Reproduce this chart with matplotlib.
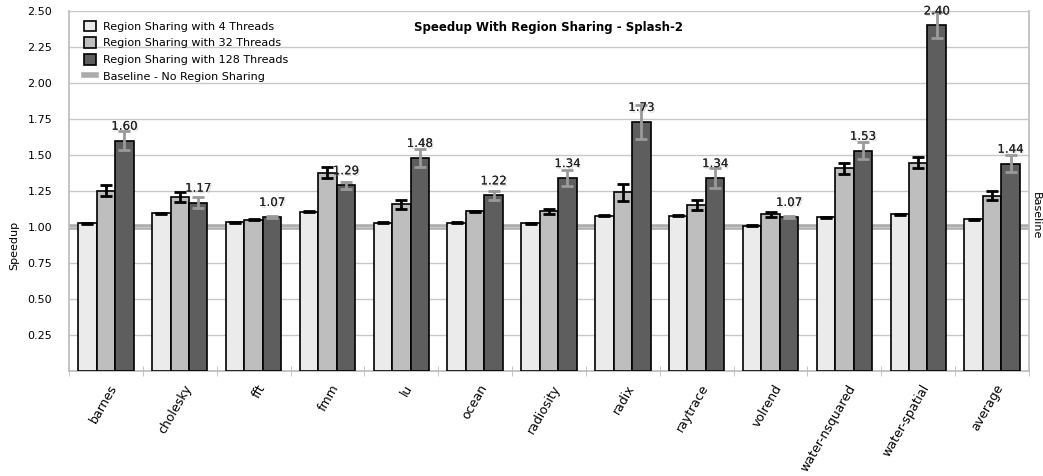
import numpy as np
import matplotlib
matplotlib.use("Agg")
import matplotlib.pyplot as plt
import matplotlib.patheffects as pe
from matplotlib.lines import Line2D

# Benchmarks (SPLASH-2) and mean speedups
categories = ["barnes", "cholesky", "fft", "fmm", "lu", "ocean", "radiosity",
              "radix", "raytrace", "volrend", "water-nsquared", "water-spatial",
              "average"]
speedup_4 = [1.025, 1.095, 1.033, 1.106, 1.03, 1.03, 1.025, 1.079, 1.079,
             1.01, 1.067, 1.088, 1.053]
speedup_32 = [1.252, 1.21, 1.05, 1.377, 1.157, 1.109, 1.11, 1.24, 1.155,
              1.088, 1.407, 1.447, 1.218]
speedup_128 = [1.60, 1.17, 1.07, 1.29, 1.48, 1.22, 1.34, 1.73, 1.34, 1.07,
               1.53, 2.40, 1.44]
err_4 = [0.005, 0.005, 0.005, 0.005, 0.005, 0.005, 0.005, 0.003, 0.003,
         0.005, 0.005, 0.005, 0.005]
err_32 = [0.037, 0.036, 0.004, 0.04, 0.03, 0.005, 0.018, 0.058, 0.035,
          0.018, 0.037, 0.04, 0.03]
err_128 = [0.065, 0.036, 0.008, 0.025, 0.06, 0.033, 0.053, 0.12, 0.07,
           0.008, 0.057, 0.09, 0.06]
baseline = 1.0
y_ticks = [0.25, 0.50, 0.75, 1.00, 1.25, 1.50, 1.75, 2.00, 2.25, 2.50]

series_labels = ["Region Sharing with 4 Threads",
                 "Region Sharing with 32 Threads",
                 "Region Sharing with 128 Threads"]
baseline_label = "Baseline - No Region Sharing"
colors = ["#EBEBEB", "#BEBEBE", "#5E5E5E"]
err_colors = ["black", "black", "#9A9A9A"]

plt.rcParams["font.family"] = ["DejaVu Sans"]

fig = plt.figure(figsize=(10.43, 4.76), dpi=100)
ax = fig.add_axes([69 / 1043, 1 - 371 / 476, 960 / 1043, 360 / 476])

x = np.arange(len(categories))
w = 0.25
handles = []
for i, (vals, errs) in enumerate(zip([speedup_4, speedup_32, speedup_128],
                                     [err_4, err_32, err_128])):
    b = ax.bar(x + (i - 1) * w, vals, w, color=colors[i], edgecolor="black",
               linewidth=1.2, zorder=3, label=series_labels[i],
               yerr=errs,
               error_kw=dict(ecolor=err_colors[i], elinewidth=2.0,
                             capsize=4, capthick=2.0, zorder=5))
    handles.append(b)

# value labels on the 128-thread bars, with a soft drop shadow
shadow = [pe.withSimplePatchShadow(offset=(1, -1.2), shadow_rgbFace="#999999",
                                   alpha=0.3), pe.Normal()]
for xi, v in zip(x, speedup_128):
    ax.text(xi + w, v + 0.055, f"{v:.2f}", ha="center", va="bottom",
            fontsize=8.5, color="#222222", zorder=6, path_effects=shadow)

# baseline on a secondary axis
ax2 = ax.twinx()
ax2.set_ylim(0, 2.5)
ax2.axhline(baseline, color="#ABABAB", linewidth=4, zorder=2)
ax2.set_yticks([])
for s in ax2.spines.values():
    s.set_visible(False)
ax.set_zorder(ax2.get_zorder() + 1)
ax.patch.set_visible(False)
fig.text(1036 / 1043, 1 - 216 / 476, "Baseline", rotation=270,
         ha="center", va="center", fontsize=8)

ax.set_xlim(-0.5, len(categories) - 0.5)
ax.set_ylim(0, 2.5)
ax.set_yticks(y_ticks)
ax.set_yticklabels([f"{t:.2f}" for t in y_ticks], fontsize=8)
ax.tick_params(axis="y", length=0, pad=12)
ax.yaxis.grid(True, color="#C8C8C8", linewidth=1, zorder=0)
ax.set_axisbelow(True)
ax.set_ylabel("Speedup", fontsize=8, va="center")
ax.yaxis.set_label_coords(-0.057, 0.35)

ax.set_xticks(x + 0.04)
ax.set_xticklabels(categories, rotation=60, ha="right",
                   rotation_mode="anchor", fontsize=9)
ax.tick_params(axis="x", which="major", length=0, pad=8)
ax.set_xticks(np.arange(len(categories) + 1) - 0.5, minor=True)
ax.tick_params(axis="x", which="minor", direction="inout", length=7,
               color="#BBBBBB")

for side in ["left", "bottom", "right"]:
    ax.spines[side].set_color("#BBBBBB")
    ax.spines[side].set_linewidth(1.2)
ax.spines["top"].set_visible(False)

ax.text(0.5, 0.955, "Speedup With Region Sharing - Splash-2",
        transform=ax.transAxes, ha="center", va="center", fontsize=8.5,
        fontweight="bold")

leg_handles = handles + [Line2D([0], [0], color="#ABABAB", linewidth=4)]
leg_labels = series_labels + [baseline_label]
ax.legend(leg_handles, leg_labels, loc="upper left",
          bbox_to_anchor=(0.008, 0.995), frameon=False, fontsize=8,
          handlelength=1.0, handleheight=1.1, labelspacing=0.5,
          handletextpad=0.7, borderaxespad=0.3)

fig.savefig("out.png", dpi=100)
